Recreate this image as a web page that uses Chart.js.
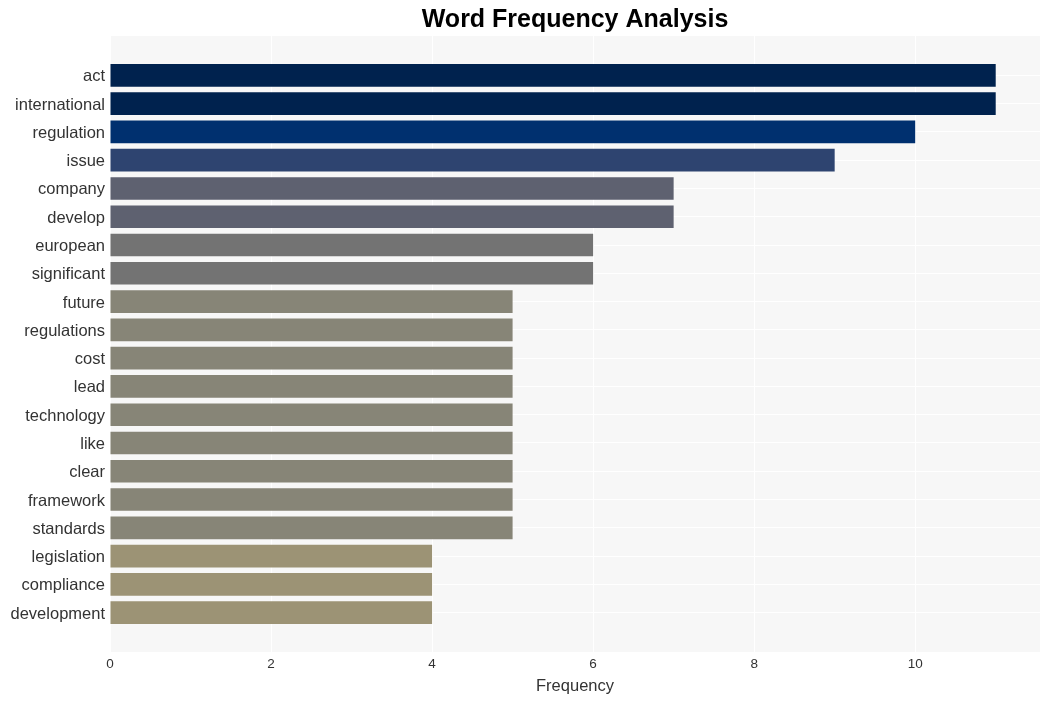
<!DOCTYPE html>
<html>
<head>
<meta charset="utf-8">
<script src="https://cdn.jsdelivr.net/npm/chart.js@4/dist/chart.umd.min.js"></script>
<style>
  html, body { margin: 0; padding: 0; background: #ffffff; }
  #wrap { width: 1050px; height: 701px; }
</style>
</head>
<body>
<div id="wrap"><canvas id="c" width="1050" height="701"></canvas></div>
<script>
const words = ["act","international","regulation","issue","company","develop","european","significant","future","regulations","cost","lead","technology","like","clear","framework","standards","legislation","compliance","development"];
const counts = [11,11,10,9,7,7,6,6,5,5,5,5,5,5,5,5,5,4,4,4];
const barColors = ["#00224e","#00224e","#00306f","#2e4470","#5e6170","#5e6170","#737373","#737373","#878577","#878577","#878577","#878577","#878577","#878577","#878577","#878577","#878577","#9c9375","#9c9375","#9c9375"];
const xTicks = [0,2,4,6,8,10];
const titleText = "Word Frequency Analysis";
const xTitle = "Frequency";

const FONT = "'Liberation Sans', Arial, sans-serif";

const bgPlugin = {
  id: 'plotBg',
  beforeDraw(chart) {
    const {ctx, chartArea: a} = chart;
    ctx.save();
    ctx.fillStyle = '#f7f7f7';
    ctx.fillRect(a.left, a.top, a.right - a.left, a.bottom - a.top);
    ctx.restore();
  },
  afterDraw(chart) {
    const {ctx, chartArea: a} = chart;
    ctx.save();
    ctx.fillStyle = '#000000';
    ctx.font = "bold 25px " + FONT;
    ctx.textAlign = 'center';
    ctx.textBaseline = 'middle';
    ctx.fillText(titleText, (a.left + a.right) / 2, 20);
    ctx.restore();
  }
};

new Chart(document.getElementById('c'), {
  type: 'bar',
  data: {
    datasets: [{
      data: counts.map((v, i) => ({x: v, y: i})),
      backgroundColor: barColors,
      borderWidth: 0,
      barPercentage: 0.8,
      categoryPercentage: 1.0
    }]
  },
  options: {
    indexAxis: 'y',
    responsive: false,
    animation: false,
    devicePixelRatio: 1,
    layout: { padding: { top: 36, right: 10, left: 0, bottom: 0 } },
    plugins: { legend: { display: false }, tooltip: { enabled: false }, title: { display: false } },
    scales: {
      x: {
        type: 'linear',
        position: 'bottom',
        min: 0,
        max: 11.55,
        offset: false,
        afterBuildTicks(s) { s.ticks = xTicks.map(v => ({value: v})); },
        afterFit(s) { s.height = 49; },
        grid: { color: '#ffffff', lineWidth: 1, drawTicks: false, offset: false },
        border: { display: false },
        ticks: { color: '#333333', font: { family: FONT, size: 13.5 }, padding: 4 },
        title: { display: true, text: xTitle, color: '#333333', font: { family: FONT, size: 16.5 }, padding: { top: 4, bottom: 5 } }
      },
      y: {
        type: 'linear',
        reverse: true,
        min: -1.39,
        max: 20.39,
        offset: false,
        afterBuildTicks(s) { s.ticks = words.map((w, i) => ({value: i})); },
        afterFit(s) { s.width = 110; },
        grid: { color: '#ffffff', lineWidth: 1, drawTicks: false, offset: false },
        border: { display: false },
        ticks: {
          color: '#333333',
          font: { family: FONT, size: 16.5 },
          padding: 5,
          labelOffset: 1.5,
          autoSkip: false,
          callback: (v) => words[v]
        }
      }
    }
  },
  plugins: [bgPlugin]
});
</script>
</body>
</html>
